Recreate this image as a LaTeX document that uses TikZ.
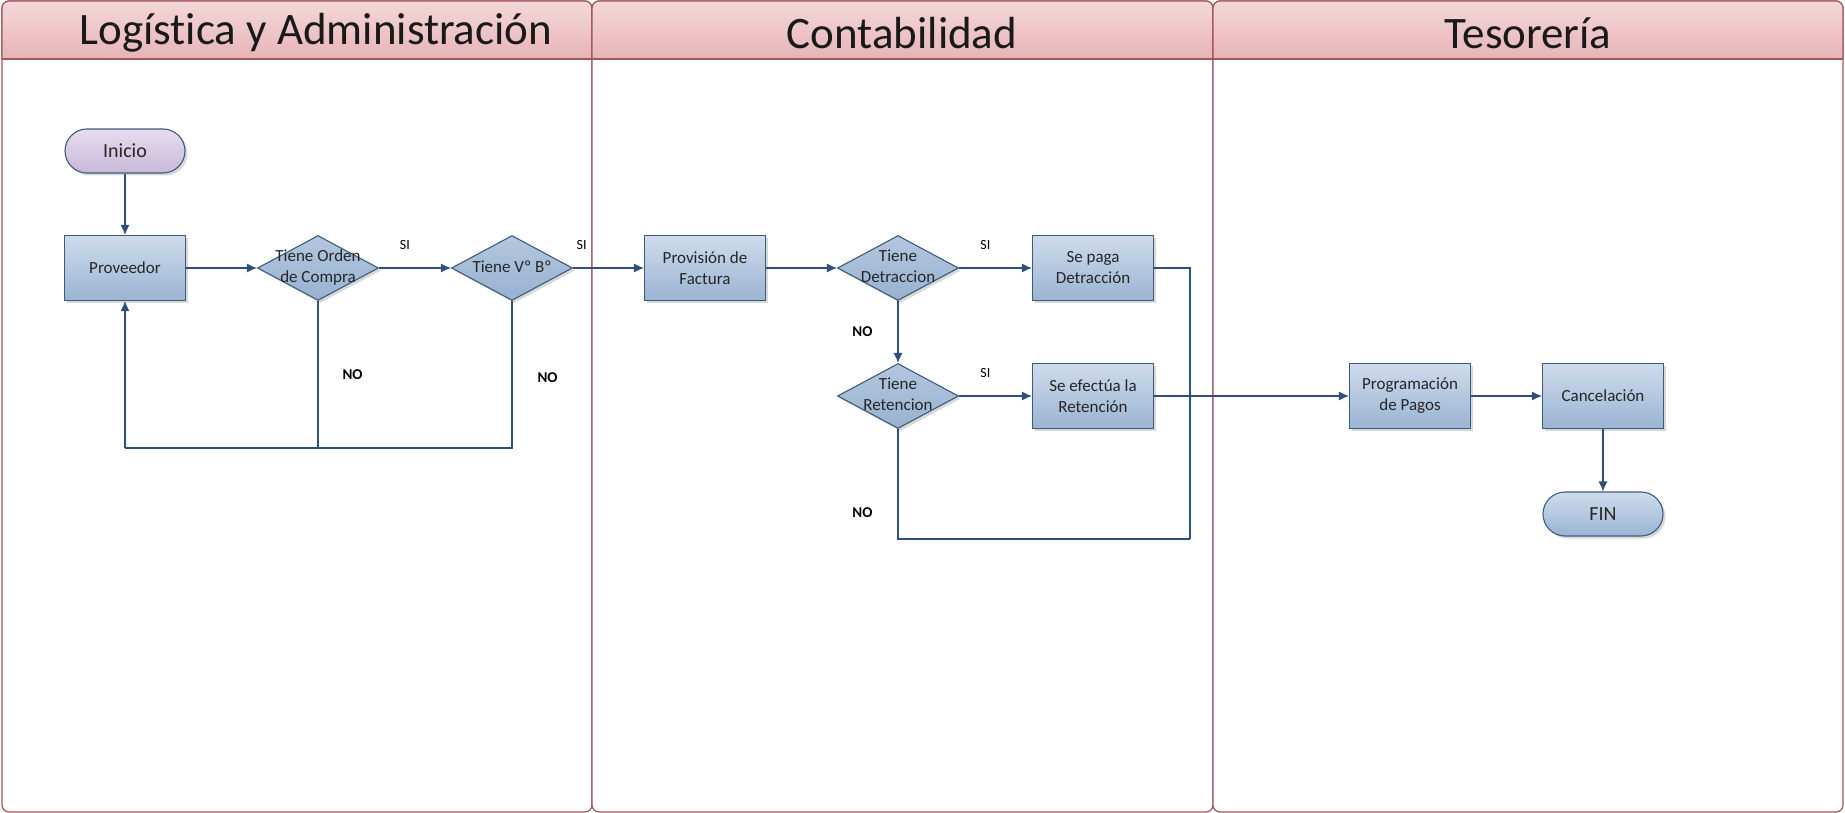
\documentclass[tikz,border=0pt]{standalone}
\usepackage{fontspec}
\setmainfont[Ligatures={NoCommon}]{Carlito}
\usepackage{xcolor}
\usetikzlibrary{shapes.geometric,shadows,arrows.meta}

\definecolor{laneborder}{HTML}{A0565E}
\definecolor{headtop}{HTML}{F4D8D9}
\definecolor{headbot}{HTML}{E0A0A6}
\definecolor{boxtop}{HTML}{CFDCEC}
\definecolor{boxbot}{HTML}{9AB4D3}
\definecolor{diatop}{HTML}{B3C7DE}
\definecolor{diabot}{HTML}{98B2D0}
\definecolor{boxline}{HTML}{3E5B7C}
\definecolor{flowblue}{HTML}{2F5179}
\definecolor{starttop}{HTML}{E6DDEE}
\definecolor{startbot}{HTML}{C8B8D9}

% text of a decision, allowed to run over the diamond
\newcommand{\dtext}[1]{\makebox[0pt]{\begin{tabular}{@{}c@{}}#1\end{tabular}}}

\begin{document}
\begin{tikzpicture}[x=1pt, y=-1pt,
    lanebody/.style={draw=laneborder, fill=white, line width=1.2pt, rounded corners=7pt},
    lanehead/.style={draw=laneborder, line width=1.2pt, rounded corners=7pt, top color=headtop, bottom color=headbot},
    lanetitle/.style={font=\fontsize{45}{50}\selectfont, text=black!90},
    shade/.style={drop shadow={shadow xshift=2.5pt, shadow yshift=-2.5pt, opacity=0.3}},
    proc/.style={rectangle, draw=boxline, line width=1.1pt, top color=boxtop, bottom color=boxbot,
        minimum width=121pt, minimum height=65pt, align=center, shade,
        font=\fontsize{17}{21}\selectfont, text=black!85},
    decision/.style={diamond, aspect=1, inner sep=0pt, draw=boxline, line width=1.1pt,
        top color=diatop, bottom color=diabot, minimum width=121pt, minimum height=65pt, shade,
        font=\fontsize{17}{21}\selectfont, text=black!85},
    term/.style={rectangle, rounded corners=22pt, draw=boxline, line width=1.1pt,
        minimum width=120pt, minimum height=44pt, shade, font=\fontsize{20}{24}\selectfont, text=black!85},
    arrowline/.style={draw=flowblue, line width=1.1pt, -{Latex[length=10pt,width=9pt]}},
    joinline/.style={draw=flowblue, line width=1.1pt},
    yes/.style={inner sep=0pt, font=\fontsize{14}{16}\selectfont},
    no/.style={inner sep=0pt, font=\fontsize{15}{17}\selectfont\bfseries}]

  \useasboundingbox (0,0) rectangle (1845,813);

  %Lanes
  \foreach \xa/\xb/\xt/\ttl [count=\i] in {2/592/316/{Logística y Administración}, 592/1213/902/Contabilidad, 1213/1843/1528/Tesorería}{
    \draw[lanebody] (\xa,1) rectangle (\xb,812);
    \begin{scope}
      \clip (\xa-2,-1) rectangle (\xb+2,59);
      \draw[lanehead] (\xa,1) rectangle (\xb,90);
    \end{scope}
    \draw[draw=laneborder, line width=1.2pt] (\xa,59) -- (\xb,59);
    \node[lanetitle] (title\i) at (\xt,33) {\ttl};
  }

  %Logistica
  \node[term, top color=starttop, bottom color=startbot] (inicio) at (125,151) {Inicio};
  \node[proc] (prov) at (125,268) {Proveedor};
  \node[decision] (orden) at (318,268) {\dtext{Tiene Orden\\de Compra}};
  \node[decision] (vobo) at (512,268) {\dtext{Tiene Vº Bº}};
  \coordinate (back) at (125,448);

  %Contabilidad
  \node[proc] (provfac) at (705,268) {Provisión de\\Factura};
  \node[decision] (detr) at (898,268) {\dtext{Tiene\\Detraccion}};
  \node[proc] (pagodet) at (1093,268) {Se paga\\Detracción};
  \node[decision] (reten) at (898,396) {\dtext{Tiene\\Retencion}};
  \node[proc] (efret) at (1093,396) {Se efectúa la\\Retención};
  \coordinate (merge) at (1190,539);

  %Tesoreria
  \node[proc] (prog) at (1410,396) {Programación\\de Pagos};
  \node[proc] (cancel) at (1603,396) {Cancelación};
  \node[term, top color=boxtop, bottom color=boxbot] (fin) at (1603,514) {FIN};

  %Lines
  \draw[arrowline] (inicio) -- (prov);
  \draw[arrowline] (prov) -- (orden);
  \draw[arrowline] (orden) -- node[yes, above=18pt, pos=0.36] (si1) {SI} (vobo);
  \draw[arrowline] (vobo) -- node[yes, above=18pt, pos=0.12] (si2) {SI} (provfac);
  \draw[joinline] (orden) -- node[no, right=24pt] (no1) {NO} (orden |- back);
  \draw[joinline] (vobo) -- node[no, right=25pt, pos=0.52] (no2) {NO} (vobo |- back) -- (back);
  \draw[arrowline] (back) -- (prov);

  \draw[arrowline] (provfac) -- (detr);
  \draw[arrowline] (detr) -- node[yes, above=18pt, pos=0.36] (si3) {SI} (pagodet);
  \draw[arrowline] (detr) -- node[no, left=25pt] (no3) {NO} (reten);
  \draw[arrowline] (reten) -- node[yes, above=18pt, pos=0.36] (si4) {SI} (efret);
  \draw[joinline] (pagodet) -| (merge);
  \draw[joinline] (reten) |- node[no, left=25pt, pos=0.38] (no4) {NO} (merge);

  \draw[arrowline] (efret) -- (prog);
  \draw[arrowline] (prog) -- (cancel);
  \draw[arrowline] (cancel) -- (fin);
\end{tikzpicture}
\end{document}
